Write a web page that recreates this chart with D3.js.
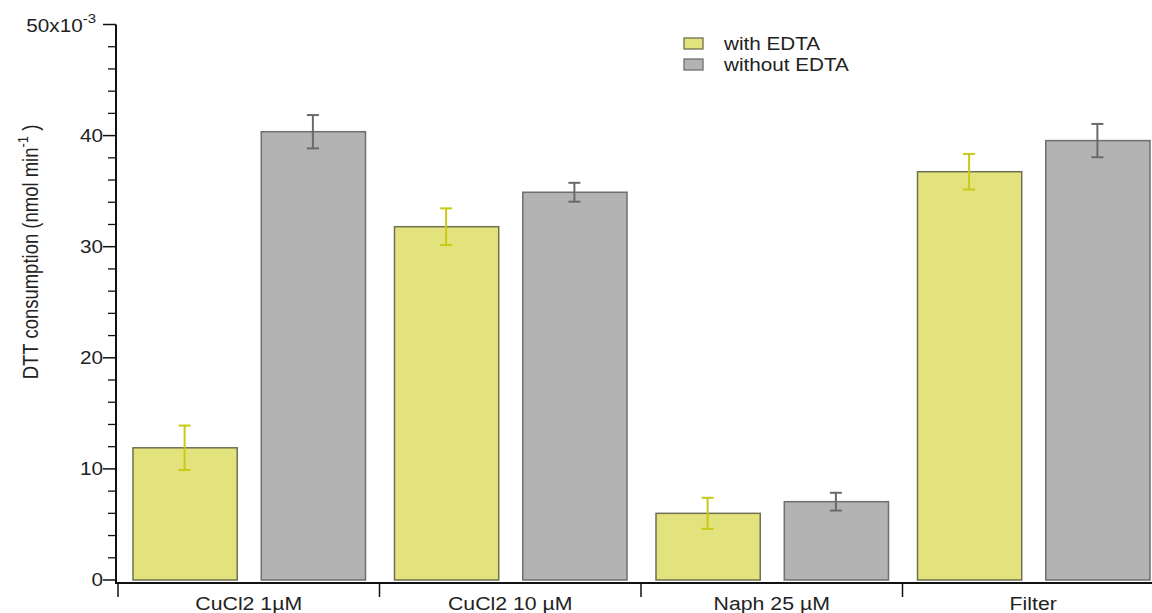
<!DOCTYPE html>
<html>
<head>
<meta charset="utf-8">
<script src="https://cdn.jsdelivr.net/npm/d3@7"></script>
<style>
  body { margin: 0; background: #fff; }
  text { font-family: "Liberation Sans", Arial, sans-serif; fill: #222; }
</style>
</head>
<body>
<svg id="chart" width="1152" height="613"></svg>
<script>
// values in units of 1e-3 nmol/min
const categories = ['CuCl2 1µM', 'CuCl2 10 µM', 'Naph 25 µM', 'Filter'];
const series = ['with EDTA', 'without EDTA'];
const withEdta = [11.9, 31.8, 6.0, 36.75];
const withEdtaErr = [2.0, 1.65, 1.4, 1.6];
const withoutEdta = [40.35, 34.9, 7.05, 39.55];
const withoutEdtaErr = [1.5, 0.85, 0.8, 1.5];
const yTicks = [0, 10, 20, 30, 40];

const fills = ['#e3e37e', '#b3b3b3'];
const strokes = ['#6f6f52', '#6f6f6f'];
const errColors = ['#c9c918', '#6a6a6a'];
const SX = 1.15; // text in the reference is a bit wide

const svg = d3.select('#chart');

const y = d3.scaleLinear().domain([0, 50]).range([580, 24.5]);
const x = d3.scaleBand().domain(categories).range([118, 118 + 261.5 * 4]);
const xs = d3.scaleBand().domain(series).range([0, x.bandwidth()])
  .paddingInner(0.1875).paddingOuter(0.113);

const rows = categories.map((c, i) => ({
  cat: c,
  vals: [
    { s: 0, v: withEdta[i], e: withEdtaErr[i] },
    { s: 1, v: withoutEdta[i], e: withoutEdtaErr[i] }
  ]
}));

const groups = svg.append('g').selectAll('g')
  .data(rows).enter().append('g')
  .attr('transform', d => `translate(${x(d.cat)},0)`);

groups.selectAll('rect')
  .data(d => d.vals).enter().append('rect')
  .attr('x', d => xs(series[d.s]) + 0.5)
  .attr('y', d => y(d.v))
  .attr('width', xs.bandwidth())
  .attr('height', d => y(0) - y(d.v))
  .attr('fill', d => fills[d.s])
  .attr('stroke', d => strokes[d.s])
  .attr('stroke-width', 1.5);

const err = groups.selectAll('g.err')
  .data(d => d.vals).enter().append('g')
  .attr('class', 'err')
  .attr('stroke', d => errColors[d.s])
  .attr('stroke-width', 2);
const cx = d => xs(series[d.s]) + xs.bandwidth() / 2;
err.append('line')
  .attr('x1', cx).attr('x2', cx)
  .attr('y1', d => y(d.v + d.e)).attr('y2', d => y(d.v - d.e));
err.append('line')
  .attr('x1', d => cx(d) - 6).attr('x2', d => cx(d) + 6)
  .attr('y1', d => y(d.v + d.e)).attr('y2', d => y(d.v + d.e));
err.append('line')
  .attr('x1', d => cx(d) - 6).attr('x2', d => cx(d) + 6)
  .attr('y1', d => y(d.v - d.e)).attr('y2', d => y(d.v - d.e));

// y axis
const yAxis = svg.append('g').attr('transform', 'translate(116,0)');
yAxis.append('line').attr('x1', 0).attr('x2', 0)
  .attr('y1', y(50)).attr('y2', 584)
  .attr('stroke', '#111').attr('stroke-width', 2);
yAxis.selectAll('line.minor')
  .data(d3.range(0, 51, 2).filter(v => v % 10 !== 0)).enter().append('line')
  .attr('class', 'minor')
  .attr('x1', -8).attr('x2', 0)
  .attr('y1', d => y(d)).attr('y2', d => y(d))
  .attr('stroke', '#111').attr('stroke-width', 1.3);
yAxis.selectAll('line.major')
  .data(yTicks.concat([50])).enter().append('line')
  .attr('class', 'major')
  .attr('x1', -13).attr('x2', 0)
  .attr('y1', d => y(d)).attr('y2', d => y(d))
  .attr('stroke', '#111').attr('stroke-width', 1.5);
yAxis.selectAll('text.tick')
  .data(yTicks).enter().append('text')
  .attr('class', 'tick')
  .attr('transform', d => `translate(-13,${y(d) + 6}) scale(${SX},1)`)
  .attr('text-anchor', 'end')
  .style('font-size', '18px')
  .text(d => d);
const topLbl = yAxis.append('text')
  .attr('transform', `translate(-20,${y(50) + 7}) scale(${SX},1)`)
  .attr('text-anchor', 'end')
  .style('font-size', '18px');
topLbl.append('tspan').text('50x10');
topLbl.append('tspan').attr('dy', -9).style('font-size', '13px').text('-3');

// x axis
const xAxis = svg.append('g');
xAxis.append('line').attr('x1', 115).attr('x2', 1152)
  .attr('y1', 583).attr('y2', 583)
  .attr('stroke', '#111').attr('stroke-width', 2);
xAxis.selectAll('line.tick')
  .data(categories).enter().append('line')
  .attr('class', 'tick')
  .attr('x1', d => x(d)).attr('x2', d => x(d))
  .attr('y1', 583).attr('y2', 597)
  .attr('stroke', '#111').attr('stroke-width', 1.5);
xAxis.selectAll('text')
  .data(categories).enter().append('text')
  .attr('transform', d => `translate(${x(d) + x.bandwidth() / 2},610) scale(${SX},1)`)
  .attr('text-anchor', 'middle')
  .style('font-size', '18.5px')
  .text(d => d);

// y title
const yTitle = svg.append('text')
  .attr('transform', `translate(38,252) scale(${SX},1) rotate(-90)`)
  .attr('text-anchor', 'middle')
  .style('font-size', '18.5px');
yTitle.append('tspan').text('DTT consumption (nmol min');
yTitle.append('tspan').attr('dy', -9).style('font-size', '13px').text('-1');
yTitle.append('tspan').attr('dy', 9).text(' )');

// legend
const legend = svg.append('g').attr('transform', 'translate(684,38)');
const li = legend.selectAll('g').data(series).enter().append('g')
  .attr('transform', (d, i) => `translate(0,${i * 21})`);
li.append('rect').attr('width', 19).attr('height', 11)
  .attr('fill', (d, i) => fills[i]).attr('stroke', (d, i) => strokes[i])
  .attr('stroke-width', 1.3);
li.append('text').attr('transform', `translate(40,12) scale(${SX},1)`)
  .style('font-size', '18px').text(d => d);
</script>
</body>
</html>
